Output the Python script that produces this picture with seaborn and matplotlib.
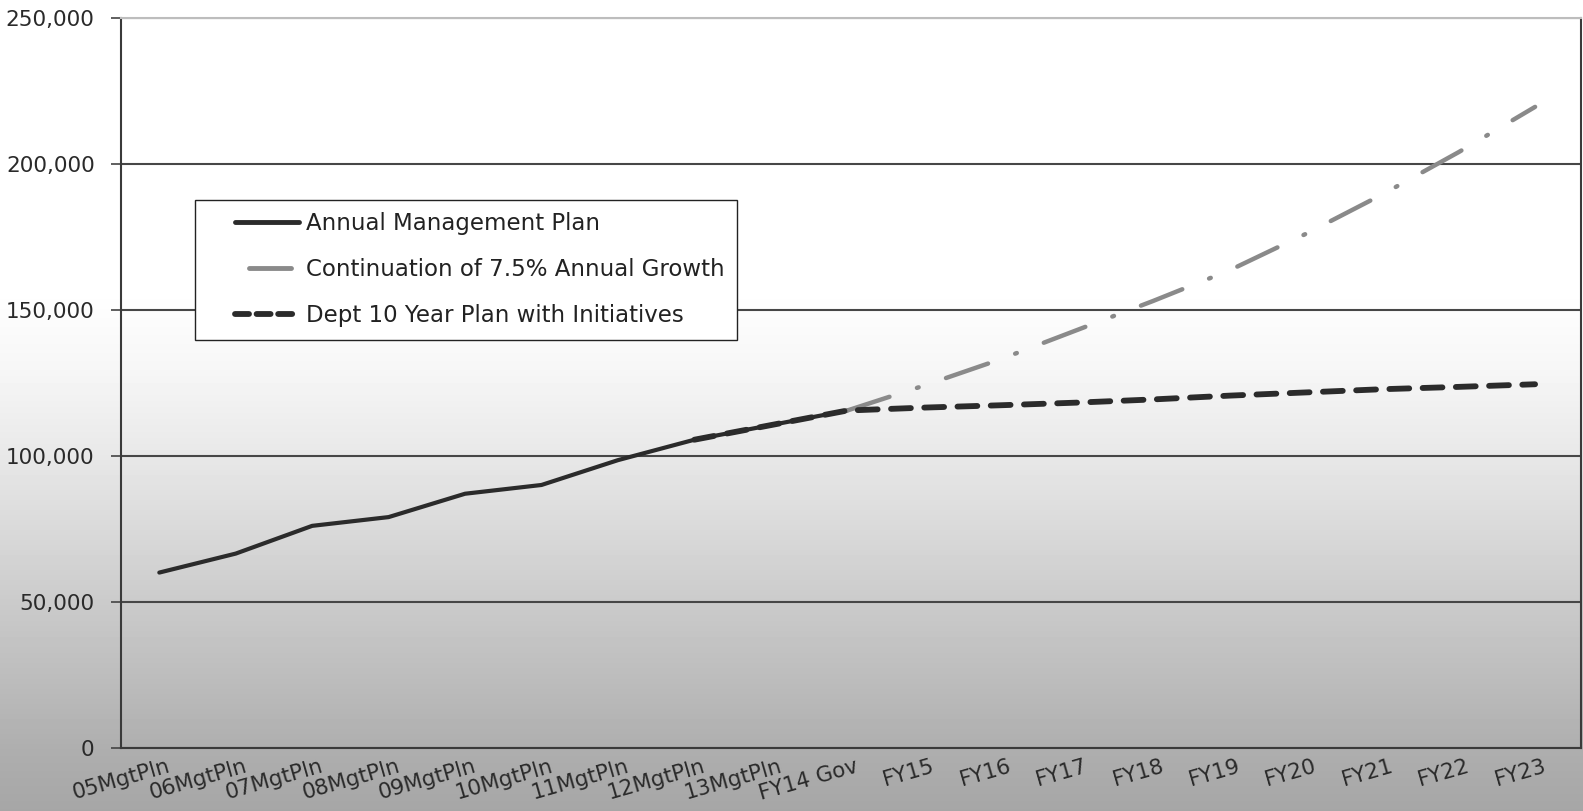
import numpy as np
import pandas as pd
import matplotlib
matplotlib.use("Agg")
import matplotlib.pyplot as plt
import matplotlib.transforms as mtransforms
from matplotlib.lines import Line2D
from matplotlib.ticker import FuncFormatter, FixedLocator
import seaborn as sns

categories = ["05MgtPln", "06MgtPln", "07MgtPln", "08MgtPln", "09MgtPln", "10MgtPln",
              "11MgtPln", "12MgtPln", "13MgtPln", "FY14 Gov", "FY15", "FY16", "FY17",
              "FY18", "FY19", "FY20", "FY21", "FY22", "FY23"]

#annual management plan: 05MgtPln .. FY14 Gov
mgt_labels = categories[:10]
mgt_plan = [60000, 66500, 76000, 79000, 87000, 90000, 98500, 105500, 110500, 115500]

#7.5% growth continuation: FY14 Gov .. FY23
growth_labels = categories[9:]
growth = [115500, 124000, 133000, 143000, 153000, 163500, 176000, 189500, 204000, 219500]

#dept 10 year plan: 12MgtPln .. FY23
dept_labels = categories[7:]
dept = [105500, 110500, 115500, 116500, 117300, 118200, 119300, 120600, 121700, 122800, 123600, 124500]

sns.set_style("white")
plt.rcParams["font.family"] = ["DejaVu Sans"]

pos = {c: i for i, c in enumerate(categories)}
df_mgt = pd.DataFrame({"x": [pos[c] for c in mgt_labels], "y": mgt_plan})
df_growth = pd.DataFrame({"x": [pos[c] for c in growth_labels], "y": growth})
df_dept = pd.DataFrame({"x": [pos[c] for c in dept_labels], "y": dept})

fig = plt.figure(figsize=(15.83, 8.11), dpi=100)

#vertical gradient background, white at top to gray at bottom
bg = fig.add_axes([0, 0, 1, 1], zorder=-10)
rows = np.arange(811)
gray = np.interp(rows, [0, 300, 370, 450, 520, 600, 680, 750, 811],
                 [255, 254, 246, 233, 219, 203, 188, 174, 166]) / 255.0
bg.imshow(np.repeat(gray[:, None], 2, axis=1), cmap="gray", vmin=0, vmax=1,
          aspect="auto", extent=[0, 1, 0, 1], origin="upper")
bg.axis("off")

ax = fig.add_axes([0.0765, 0.078, 0.9222, 0.9])
ax.set_facecolor("none")

sns.lineplot(data=df_mgt, x="x", y="y", ax=ax, color="#2b2b2b", linewidth=3.0,
             sort=False, legend=False, zorder=3, solid_capstyle="round")
sns.lineplot(data=df_growth, x="x", y="y", ax=ax, color="#8a8a8a", linewidth=3.2,
             sort=False, legend=False, zorder=4, linestyle=(0, (10, 6.5, 0.4, 6.5)),
             dash_capstyle="round")
sns.lineplot(data=df_dept, x="x", y="y", ax=ax, color="#2b2b2b", linewidth=4.2,
             sort=False, legend=False, zorder=5, linestyle=(0, (3.4, 2.3)),
             dash_capstyle="round")

ax.set_xlim(-0.5, 18.6)
ax.set_ylim(0, 250000)
ax.set_yticks([0, 50000, 100000, 150000, 200000, 250000])
ax.yaxis.set_major_formatter(FuncFormatter(lambda v, p: f"{int(v):,}"))
ax.set_xticks(range(len(categories)))
ax.set_xticklabels(categories, rotation=16, ha="right", va="top", rotation_mode="anchor")
ax.xaxis.set_minor_locator(FixedLocator(np.arange(-0.5, 18.6, 1.0)))
ax.tick_params(axis="x", which="major", length=0, pad=6, labelsize=15.5, colors="#2a2a2a")
ax.tick_params(axis="x", which="minor", length=5, width=1.2, color="#444444", direction="out")
ax.tick_params(axis="y", length=7, width=1.2, color="#444444", pad=12, labelsize=15.5,
               labelcolor="#2a2a2a", left=True)
ax.set_xlabel("")
ax.set_ylabel("")

#nudge the rotated category labels a little to the right
offset = mtransforms.ScaledTranslation(8 / 100, 0, fig.dpi_scale_trans)
for lbl in ax.get_xticklabels():
    lbl.set_transform(lbl.get_transform() + offset)

ax.grid(axis="y", color="#474747", linewidth=1.5)
ax.grid(axis="x", visible=False)
for side in ["left", "bottom", "right"]:
    ax.spines[side].set_visible(True)
    ax.spines[side].set_color("#3a3a3a")
    ax.spines[side].set_linewidth(1.5)
ax.spines["top"].set_color("#bdbdbd")
ax.spines["top"].set_linewidth(1.5)

handles = [
    Line2D([], [], color="#2b2b2b", linewidth=3.5),
    Line2D([], [], color="#8a8a8a", linewidth=3.5),
    Line2D([], [], color="#2b2b2b", linewidth=4.2, linestyle=(0, (2.4, 1.3)),
           dash_capstyle="round"),
]
labels = ["Annual Management Plan", "Continuation of 7.5% Annual Growth",
          "Dept 10 Year Plan with Initiatives"]
leg = ax.legend(handles, labels, loc="upper left", bbox_to_anchor=(0.0505, 0.751),
                borderaxespad=0, frameon=True, fancybox=False, fontsize=16.5,
                handlelength=4.0, handletextpad=0.3, labelspacing=1.0,
                borderpad=0.55, labelcolor="#222222")
leg.get_frame().set_edgecolor("#222222")
leg.get_frame().set_linewidth(1.0)
leg.get_frame().set_facecolor("white")
leg.get_frame().set_alpha(1.0)

#shorten legend handle lines like the original (gray one is shorter and detached)
spans = [(0.30, 1.0), (0.45, 0.91), (0.30, 1.0)]
for line, (f0, f1) in zip(leg.legend_handles, spans):
    xd = np.asarray(line.get_xdata(), dtype=float)
    yd = np.asarray(line.get_ydata(), dtype=float)
    x0, x1 = xd[0], xd[-1]
    line.set_data([x0 + f0 * (x1 - x0), x0 + f1 * (x1 - x0)], [yd[0], yd[0]])

plt.savefig("out.png", dpi=100)
plt.close()
